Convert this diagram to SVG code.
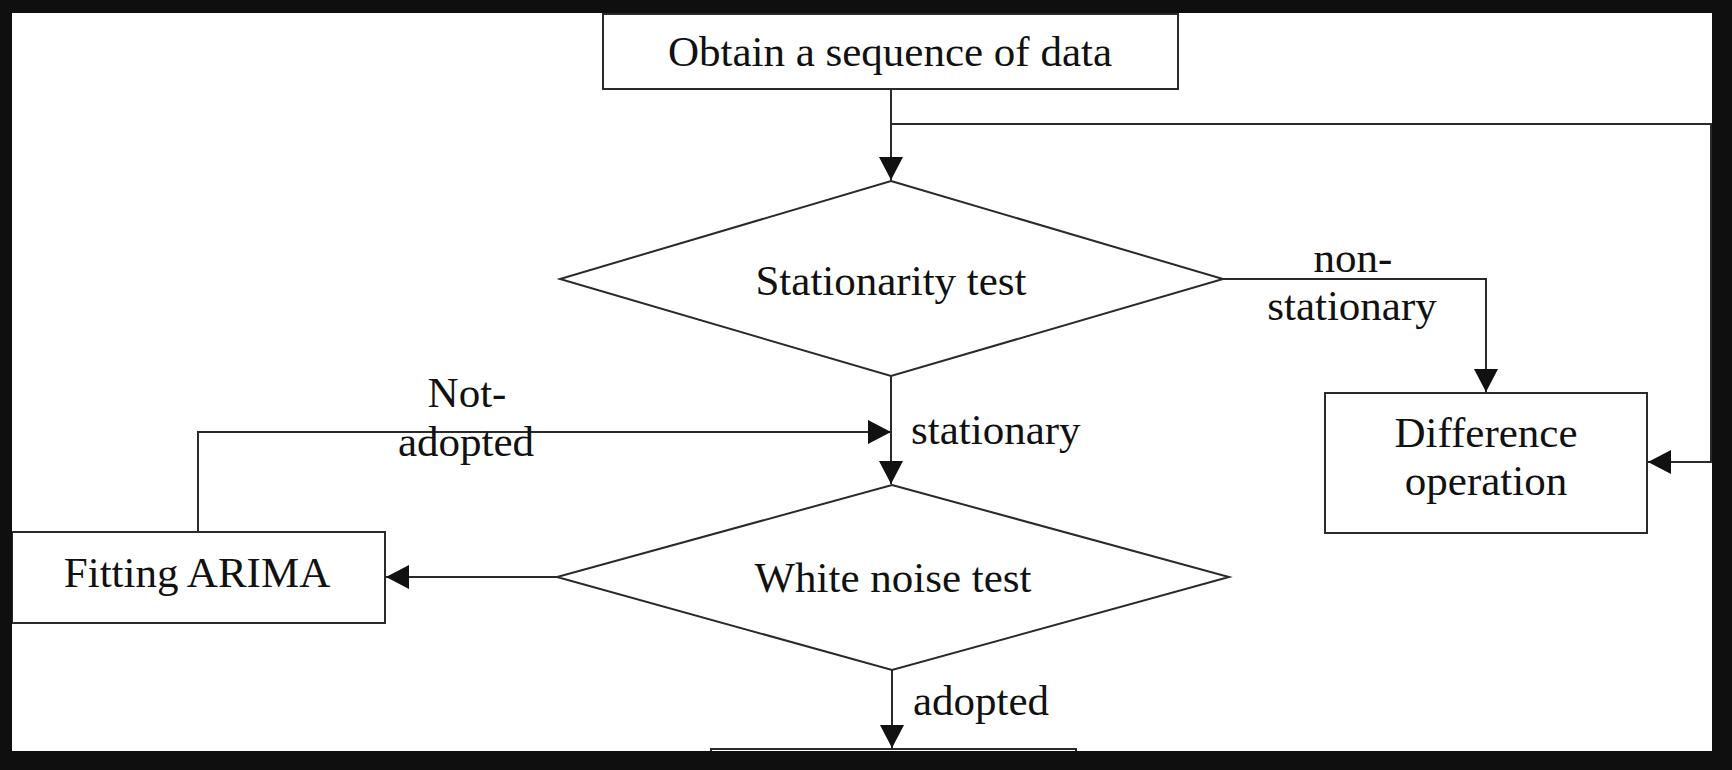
<svg xmlns="http://www.w3.org/2000/svg" width="1732" height="770" viewBox="0 0 1732 770">
<style>
.box{fill:#fff;stroke:#2a2a2a;stroke-width:2}
.edge{fill:none;stroke:#2a2a2a;stroke-width:2}
.t{font-family:"Liberation Serif","Times New Roman",serif;font-size:43px;fill:#111;text-anchor:middle}
.l{font-family:"Liberation Serif","Times New Roman",serif;font-size:43px;fill:#111}
</style>
<defs>
<marker id="arr" viewBox="0 0 23 24" refX="23" refY="12" markerWidth="23" markerHeight="24" markerUnits="userSpaceOnUse" orient="auto">
<path d="M0,0 L23,12 L0,24 z" fill="#111"/>
</marker>
</defs>
<rect x="0" y="0" width="1732" height="770" fill="#fff"/>
<g id="connectors">
<path class="edge" d="M891,89 L891,180" marker-end="url(#arr)"/>
<path class="edge" d="M891,124 L1711,124 L1711,462 L1648,462" marker-end="url(#arr)"/>
<path class="edge" d="M1223,279 L1486,279 L1486,392" marker-end="url(#arr)"/>
<path class="edge" d="M891,376 L891,484" marker-end="url(#arr)"/>
<path class="edge" d="M557,577 L386,577" marker-end="url(#arr)"/>
<path class="edge" d="M198,532 L198,432 L891,432" marker-end="url(#arr)"/>
<path class="edge" d="M892,670 L892,748" marker-end="url(#arr)"/>
<text class="t" x="1353" y="272">non-</text>
<text class="t" x="1352" y="320">stationary</text>
<text class="l" x="911" y="444">stationary</text>
<text class="t" x="467" y="407">Not-</text>
<text class="t" x="466" y="456">adopted</text>
<text class="l" x="913" y="715">adopted</text>
</g>
<g id="obtain">
<rect class="box" x="603" y="14" width="575" height="75"/>
<text class="t" x="890" y="66">Obtain a sequence of data</text>
</g>
<g id="stationarity">
<polygon class="box" points="891,181 1223,279 891,376 560,279"/>
<text class="t" x="891" y="295">Stationarity test</text>
</g>
<g id="difference">
<rect class="box" x="1325" y="393" width="322" height="140"/>
<text class="t" x="1486" y="447">Difference</text>
<text class="t" x="1486" y="495">operation</text>
</g>
<g id="whitenoise">
<polygon class="box" points="892,485 1229,577 892,670 557,577"/>
<text class="t" x="893" y="592">White noise test</text>
</g>
<g id="fitting">
<rect class="box" x="12" y="532" width="373" height="91"/>
<text class="t" x="197" y="587">Fitting ARIMA</text>
</g>
<g id="bottom">
<rect class="box" x="711" y="749" width="365" height="60"/>
</g>
<path d="M0,0 H1732 V770 H0 Z M12,13 V751 H1712 V13 Z" fill="#0f0f0f" fill-rule="evenodd"/>
</svg>
